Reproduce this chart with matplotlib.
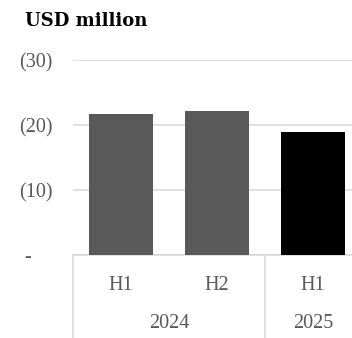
import numpy as np
import matplotlib
matplotlib.use("Agg")
import matplotlib.pyplot as plt
from matplotlib.ticker import FuncFormatter
from matplotlib.transforms import blended_transform_factory

# Half-year results, shown as negatives in brackets
periods = ["H1", "H2", "H1"]
years = ["2024", "2025"]
year_spans = [(0, 2), (2, 3)]  # category index ranges per year
values = [-21.7, -22.2, -18.9]
bar_colors = ["#595959", "#595959", "#000000"]
yticks = [0, -10, -20, -30]

plt.rcParams["font.family"] = ["Liberation Serif", "DejaVu Serif"]
grey = "#595959"
line_grey = "#d9d9d9"
fsize = 14.5

fig = plt.figure(figsize=(3.52, 3.38), dpi=100)
ax = fig.add_axes([73 / 352, 83 / 338, 288 / 352, 195 / 338])

x = np.arange(len(values))
ax.bar(x, values, width=2 / 3, color=bar_colors, zorder=3)

ax.set_xlim(-0.5, len(values) - 0.5)
ax.set_ylim(0, -30)
ax.set_yticks(yticks)


def acct(v, pos):
    # accounting style: brackets for negatives, dash for zero
    if v == 0:
        return "-    "
    return "(%d)" % abs(v)


ax.yaxis.set_major_formatter(FuncFormatter(acct))
ax.tick_params(axis="y", length=0, pad=15, labelsize=fsize, labelcolor=grey)
ax.tick_params(axis="x", length=0, labelbottom=False)
ax.grid(axis="y", color=line_grey, linewidth=1.1, zorder=0)
for side in ["left", "right", "top"]:
    ax.spines[side].set_visible(False)
ax.spines["bottom"].set_color(line_grey)
ax.spines["bottom"].set_linewidth(1.1)

# two-level category axis below the plot
trans = blended_transform_factory(ax.transData, fig.transFigure)
for i, p in enumerate(periods):
    ax.text(i, (338 - 285) / 338, p, transform=trans, ha="center", va="center",
            fontsize=fsize, color=grey)
for (a, b), yr in zip(year_spans, years):
    ax.text((a + b - 1) / 2, (338 - 324) / 338, yr, transform=trans,
            ha="center", va="center", fontsize=fsize, color=grey)
for edge in [-0.5, 1.5, 2.5]:
    ax.plot([edge, edge], [0, 83 / 338], transform=trans, color=line_grey,
            linewidth=1.1, clip_on=False)

fig.text(25 / 352, (338 - 25.5) / 338, "USD million", fontsize=13,
         family="DejaVu Serif", fontweight="bold", ha="left",
         va="baseline", color="black")

fig.savefig("out.png", dpi=100)
